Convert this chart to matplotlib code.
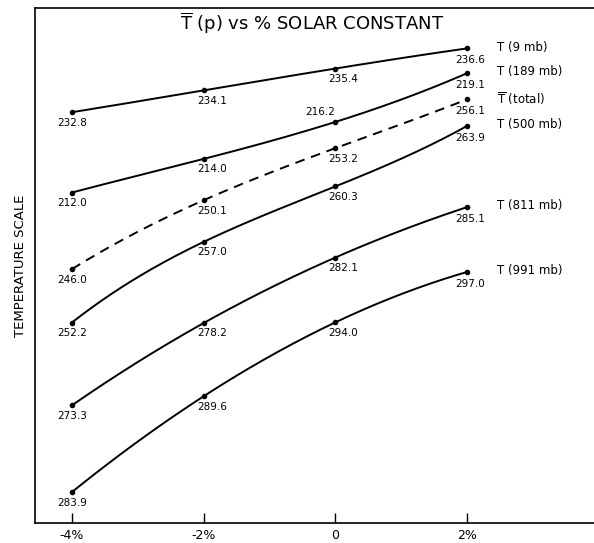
import numpy as np
import matplotlib
matplotlib.use("Agg")
import matplotlib.pyplot as plt

# percent change of the solar constant
x_pct = [-4, -2, 0, 2]
x_ticklabels = ["-4%", "-2%", "0", "2%"]

# mean temperatures (K) at each level
t_9mb = [232.8, 234.1, 235.4, 236.6]
t_189mb = [212.0, 214.0, 216.2, 219.1]
t_total = [246.0, 250.1, 253.2, 256.1]
t_500mb = [252.2, 257.0, 260.3, 263.9]
t_811mb = [273.3, 278.2, 282.1, 285.1]
t_991mb = [283.9, 289.6, 294.0, 297.0]

series_names = ["T (9 mb)", "T (189 mb)", "$\\overline{\\mathrm{T}}$ (total)",
                "T (500 mb)", "T (811 mb)", "T (991 mb)"]
series = [t_9mb, t_189mb, t_total, t_500mb, t_811mb, t_991mb]

# each curve is shifted on a common kelvin scale so they stack on the page
base = [208.35, 192.33, 230.89, 240.27, 266.3, 282.06]
styles = ["-", "-", "--", "-", "-", "-"]

fig = plt.figure(figsize=(5.94, 5.43), dpi=100)
ax = fig.add_axes([35 / 594, 20 / 543, 559 / 594, 515 / 543])
ax.set_xlim(-4.56, 3.93)
ax.set_ylim(0, 515 / 16.8)

# label offsets (points) for each column of values
dx = [0, 6, 6, 2]
dy = [-7.5, -7.5, -7.5, -8.5]

for name, vals, b, ls in zip(series_names, series, base, styles):
    y = np.array(vals) - b
    coef = np.polyfit(x_pct, y, 3)
    xs = np.linspace(x_pct[0], x_pct[-1], 200)
    if ls == "--":
        ax.plot(xs, np.polyval(coef, xs), color="black", lw=1.4,
                dashes=(5, 3.5))
    else:
        ax.plot(xs, np.polyval(coef, xs), color="black", lw=1.4)
    ax.plot(x_pct, y, "o", color="black", ms=3)
    for i, (xv, yv, tv) in enumerate(zip(x_pct, y, vals)):
        ox, oy = dx[i], dy[i]
        if tv == 216.2:
            ox, oy = -11, 7
        ax.annotate(f"{tv:.1f}", (xv, yv), xytext=(ox, oy),
                    textcoords="offset points", ha="center", va="center",
                    fontsize=7.5)
    ax.annotate(name, (x_pct[-1], y[-1]), xytext=(22, 1),
                textcoords="offset points", ha="left", va="center",
                fontsize=8.5)

ax.set_xticks(x_pct)
ax.set_xticklabels(x_ticklabels, fontsize=9)
ax.tick_params(axis="x", direction="in", length=7, width=1, pad=4)
ax.set_yticks([])
ax.spines["right"].set_visible(False)
for s in ["left", "bottom", "top"]:
    ax.spines[s].set_linewidth(1.2)

ax.set_ylabel("TEMPERATURE SCALE", fontsize=9.5, labelpad=6)
fig.text(0.525, 0.958, "$\\overline{\\mathrm{T}}$ (p) vs % SOLAR CONSTANT",
         ha="center", va="center", fontsize=13, zorder=5)

fig.savefig("out.png", dpi=100)
